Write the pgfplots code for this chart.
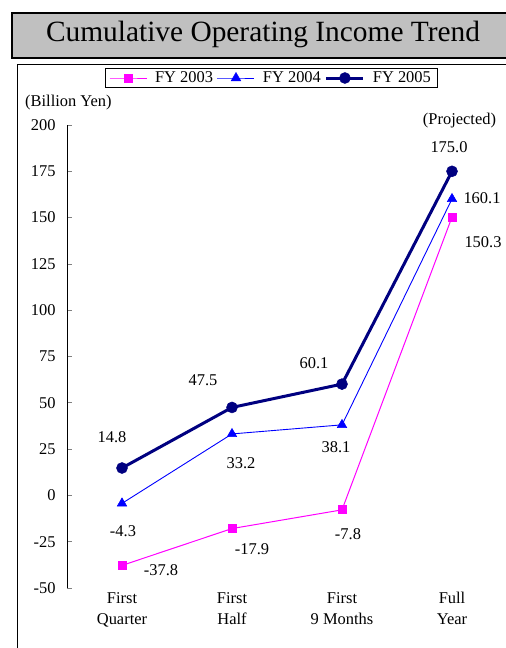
\documentclass[border=0pt]{standalone}
\usepackage{fontspec}
\setmainfont{Liberation Serif}
\usepackage{pgfplots}
\pgfplotsset{compat=1.18}
\definecolor{navyc}{RGB}{0,0,128}
\definecolor{magc}{RGB}{255,0,255}
\definecolor{bluec}{RGB}{0,0,255}
\definecolor{titlegray}{RGB}{192,192,192}
\begin{document}
\begin{tikzpicture}[x=1bp,y=1bp]
\path[use as bounding box] (0,0) rectangle (506,-648);
\draw[line width=2.5bp, fill=titlegray] (12,-13) rectangle (530,-58);
\node at (263,-34) {\fontsize{29.5}{34}\selectfont Cumulative Operating Income Trend};
\draw[line width=1bp] (17,-64.5) rectangle (530,-680);
\begin{axis}[
  at={(67bp,-588bp)}, anchor=south west, scale only axis,
  width=440bp, height=463bp,
  xmin=-0.5, xmax=3.5, ymin=-50, ymax=200,
  axis y line*=left, axis x line*=bottom,
  x axis line style={draw=none},
  xtick={0,1,2,3},
  xticklabels={{First\\Quarter},{First\\Half},{First\\9 Months},{Full\\Year}},
  xticklabel style={align=center, font=\fontsize{16.5}{21}\selectfont, yshift=-1bp},
  major x tick style={draw=none},
  ytick={-50,-25,0,25,50,75,100,125,150,175,200},
  yticklabel style={font=\fontsize{16.5}{17}\selectfont, xshift=-8bp},
  /pgf/number format/assume math mode=true,
  tick align=inside, major tick length=5bp,
  y axis line style={line width=0.8bp},
  major y tick style={line width=0.8bp},
  legend columns=3,
  legend style={at={(0.4636,1.1015)}, anchor=center, draw=black, line width=0.8bp,
    font=\fontsize{16.5}{18}\selectfont, inner ysep=1.5bp, inner xsep=4bp,
    /tikz/every even column/.append style={column sep=2bp},
    /tikz/every odd column/.append style={column sep=6bp}},
  legend image code/.code={\draw[mark repeat=2,mark phase=2] plot coordinates {(0bp,0bp) (18.5bp,0bp) (37bp,0bp)};},
  clip=false,
]
\addplot[magc, line width=1bp, mark=square*, mark size=4bp, mark options={solid}] coordinates {(0,-37.8) (1,-17.9) (2,-7.8) (3,150.3)};
\addlegendentry{FY 2003}
\addplot[bluec, line width=0.9bp, mark=triangle*, mark size=5.5bp, mark options={line width=0.5bp}] coordinates {(0,-4.3) (1,33.2) (2,38.1) (3,160.1)};
\addlegendentry{FY 2004}
\addplot[navyc, line width=3bp, mark=*, mark size=5.5bp, mark options={line width=0.5bp}] coordinates {(0,14.8) (1,47.5) (2,60.1) (3,175.0)};
\addlegendentry{FY 2005}
\end{axis}
\begin{scope}[every node/.style={font=\fontsize{16.5}{18}\selectfont, inner sep=0pt}]
\node at (112,-437) {14.8};
\node at (203,-380) {47.5};
\node at (314,-363) {60.1};
\node at (449,-147) {175.0};
\node at (123,-531) {-4.3};
\node at (241,-463) {33.2};
\node at (336,-447) {38.1};
\node at (482,-198) {160.1};
\node at (161,-570) {-37.8};
\node at (252,-549) {-17.9};
\node at (348,-534) {-7.8};
\node at (483,-242) {150.3};
\node[anchor=west] at (25,-103) {(Billion Yen)};
\node at (459.5,-121) {(Projected)};
\end{scope}
\end{tikzpicture}
\end{document}
